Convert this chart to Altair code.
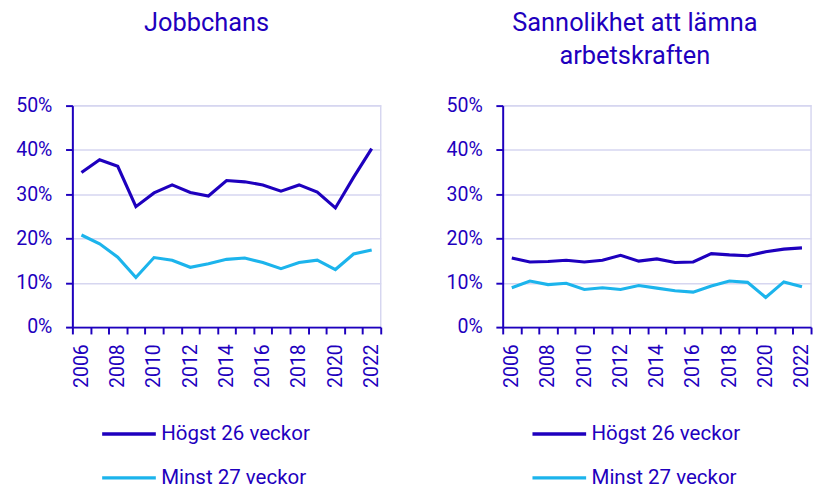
import altair as alt
import pandas as pd

years = list(range(2006, 2023))
series = ["Högst 26 veckor", "Minst 27 veckor"]

# Jobbchans (percent)
job_high = [34.9, 37.8, 36.3, 27.2, 30.3, 32.1, 30.4, 29.6, 33.1, 32.8, 32.1, 30.7, 32.1, 30.5, 26.9, 33.8, 40.3]
job_low = [20.8, 18.8, 15.8, 11.2, 15.7, 15.1, 13.5, 14.3, 15.3, 15.6, 14.6, 13.2, 14.6, 15.1, 13.0, 16.5, 17.4]

# Sannolikhet att lämna arbetskraften (percent)
leave_high = [15.6, 14.7, 14.8, 15.1, 14.7, 15.1, 16.2, 14.9, 15.4, 14.6, 14.7, 16.6, 16.3, 16.1, 17.0, 17.6, 17.9]
leave_low = [8.9, 10.4, 9.6, 9.9, 8.5, 8.9, 8.5, 9.4, 8.8, 8.2, 7.9, 9.3, 10.4, 10.1, 6.7, 10.2, 9.1]

y_ticks = [0, 0.1, 0.2, 0.3, 0.4, 0.5]

DARK = "#1E00BE"
LIGHT = "#1CB4EC"
GRID = "#D6D6F0"
FONT = "Roboto"


def panel(title_lines, high, low, title_dx):
    df = pd.DataFrame({
        "year": [str(y) for y in years] * 2,
        "value": [v / 100 for v in high + low],
        "series": [series[0]] * len(years) + [series[1]] * len(years),
    })
    return alt.Chart(
        df,
        title=alt.TitleParams(
            text=title_lines, fontSize=26, lineHeight=33, font=FONT,
            fontWeight="normal", color=DARK, anchor="middle", frame="bounds",
            offset=28, dx=title_dx,
        ),
    ).mark_line(strokeWidth=3.2).encode(
        x=alt.X(
            "year:O",
            scale=alt.Scale(type="band", paddingInner=0, paddingOuter=0),
            axis=alt.Axis(
                title=None, labelAngle=-90, tickBand="extent", grid=False,
                labelExpr="parseInt(datum.value) % 2 == 0 ? datum.label : ''",
                tickSize=7, labelPadding=10,
            ),
        ),
        y=alt.Y(
            "value:Q",
            scale=alt.Scale(domain=[0, 0.5]),
            axis=alt.Axis(title=None, format=".0%", values=y_ticks, tickSize=7, labelPadding=14),
        ),
        color=alt.Color(
            "series:N",
            scale=alt.Scale(domain=series, range=[DARK, LIGHT]),
            legend=alt.Legend(
                title=None, orient="none", legendX=28, legendY=326,
                direction="vertical", symbolType="M-1,0H5.875",
                symbolStrokeWidth=3.5, symbolSize=256,
                labelFontSize=21, labelColor=DARK, labelFont=FONT,
                rowPadding=23, labelOffset=42, padding=0,
            ),
        ),
    ).properties(width=316, height=227)


left = panel(["Jobbchans", " "], job_high, job_low, 8)
right = panel(["Sannolikhet att lämna", "arbetskraften"], leave_high, leave_low, 6)

chart = alt.hconcat(left, right, spacing=64).resolve_scale(color="independent").properties(
    padding={"left": 7, "top": -4, "right": 0, "bottom": 0}
).configure_axis(
    labelColor=DARK, tickColor=DARK, domainColor=DARK, labelFont=FONT,
    labelFontSize=20, gridColor=GRID, domainWidth=2, tickWidth=2, gridWidth=1.5,
).configure_view(stroke=GRID, strokeWidth=1.5)

chart.save("out.html", embed_options={"renderer": "svg", "actions": False})
